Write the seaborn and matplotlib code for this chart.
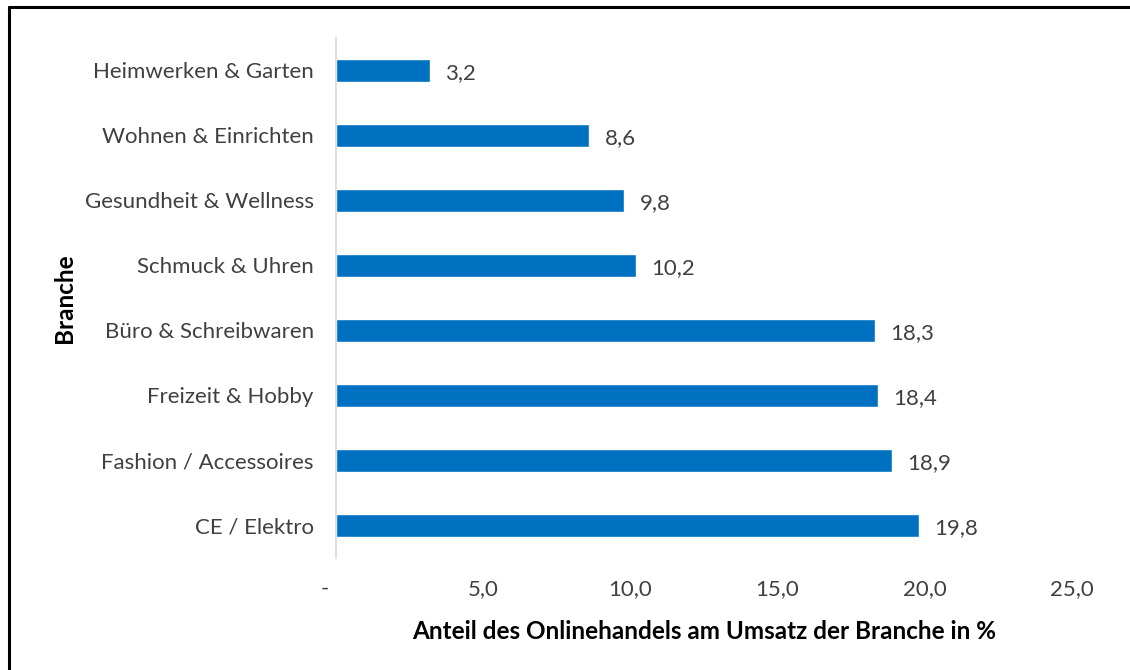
import matplotlib
matplotlib.use("Agg")
import matplotlib.pyplot as plt
import matplotlib.transforms as mtransforms
from matplotlib.lines import Line2D
import seaborn as sns
import pandas as pd

# Daten
branchen = ["Heimwerken & Garten", "Wohnen & Einrichten", "Gesundheit & Wellness",
            "Schmuck & Uhren", "Büro & Schreibwaren", "Freizeit & Hobby",
            "Fashion / Accessoires", "CE / Elektro"]
anteile = [3.2, 8.6, 9.8, 10.2, 18.3, 18.4, 18.9, 19.8]
x_ticks = [0, 5, 10, 15, 20, 25]
x_ticklabels = ["-", "5,0", "10,0", "15,0", "20,0", "25,0"]

df = pd.DataFrame({"Branche": branchen, "Anteil": anteile})

sns.set_style("white")
plt.rcParams["font.family"] = ["Lato", "DejaVu Sans"]

fig = plt.figure(figsize=(11.3, 6.7), dpi=100)
ax = fig.add_axes([0.2973, 0.1672, 0.6513, 0.7761])

sns.barplot(data=df, x="Anteil", y="Branche", orient="h", color="#0070C0",
            width=0.34, saturation=1, ax=ax)

for p, v in zip(ax.patches, anteile):
    ax.annotate(f"{v:.1f}".replace(".", ","),
                (p.get_width(), p.get_y() + p.get_height() / 2),
                xytext=(11, -2), textcoords="offset points",
                ha="left", va="center", fontsize=16, color="#404040")

ax.set_xlim(0, 25)
ax.set_xticks(x_ticks)
ax.set_xticklabels(x_ticklabels)
ax.tick_params(axis="x", length=0, pad=15, labelsize=16, labelcolor="#404040")
ax.tick_params(axis="y", length=0, pad=16, labelsize=16, labelcolor="#404040")
# "-" fuer null leicht nach links wie im Original
dash = ax.get_xticklabels()[0]
dash.set_transform(dash.get_transform() + mtransforms.ScaledTranslation(-8 / 72, 0, fig.dpi_scale_trans))

for s in ["top", "right", "bottom"]:
    ax.spines[s].set_visible(False)
ax.spines["left"].set_color("#d9d9d9")
ax.spines["left"].set_linewidth(1.2)

ax.set_xlabel("Anteil des Onlinehandels am Umsatz der Branche in %",
              fontsize=17.5, fontweight="bold", color="black", labelpad=15)
ax.set_ylabel("Branche", fontsize=17.5, fontweight="bold", color="black", labelpad=6)

# Rahmen (links und oben)
fig.add_artist(Line2D([9 / 1130, 9 / 1130], [0, 1 - 7 / 670], color="black", lw=2.2))
fig.add_artist(Line2D([9 / 1130, 1], [1 - 7 / 670, 1 - 7 / 670], color="black", lw=2.2))

fig.savefig("out.png", dpi=100)
